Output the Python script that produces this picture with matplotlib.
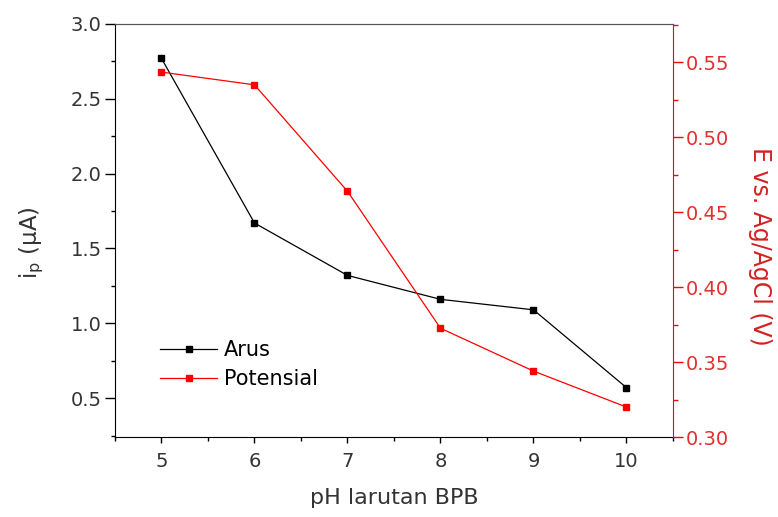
import matplotlib
matplotlib.use("Agg")
import matplotlib.pyplot as plt
from matplotlib.ticker import MultipleLocator, FormatStrFormatter

plt.rcParams['font.family'] = ['DejaVu Sans']

ph = [5, 6, 7, 8, 9, 10]
arus = [2.77, 1.67, 1.32, 1.16, 1.09, 0.57]
potensial = [0.5435, 0.535, 0.464, 0.3726, 0.344, 0.320]

fig = plt.figure(figsize=(7.78, 5.17), dpi=100)
ax = fig.add_axes([0.1478, 0.1547, 0.865 - 0.1478, 0.9536 - 0.1547])
ax2 = ax.twinx()

l1, = ax.plot(ph, arus, color='black', lw=0.9, marker='s', ms=4.6, mec='black', mfc='black', label='Arus')
l2, = ax2.plot(ph, potensial, color='red', lw=0.9, marker='s', ms=5.0, mec='red', mfc='red', label='Potensial')

ax.set_xlim(4.5, 10.5)
ax.set_ylim(0.24, 3.0)
ax2.set_ylim(0.30, 0.5756)

ax.xaxis.set_major_locator(MultipleLocator(1))
ax.xaxis.set_minor_locator(MultipleLocator(0.5))
ax.yaxis.set_major_locator(MultipleLocator(0.5))
ax.yaxis.set_minor_locator(MultipleLocator(0.25))
ax2.yaxis.set_major_locator(MultipleLocator(0.05))
ax2.yaxis.set_minor_locator(MultipleLocator(0.025))
ax2.yaxis.set_major_formatter(FormatStrFormatter('%.2f'))

tc = '#333333'
ax.tick_params(axis='x', which='major', direction='out', length=4, width=1, colors='black', labelcolor=tc, labelsize=14, pad=7)
ax.tick_params(axis='x', which='minor', direction='out', length=3, width=1, colors='black')
ax.tick_params(axis='y', which='major', direction='out', length=7, width=1, colors='black', labelcolor=tc, labelsize=14, pad=2.5)
ax.tick_params(axis='y', which='minor', direction='out', length=3, width=1, colors='black')
ax2.tick_params(axis='y', which='major', direction='out', length=7, width=1, colors='red', labelcolor='#e03030', labelsize=14, pad=2.5)
ax2.tick_params(axis='y', which='minor', direction='out', length=3.5, width=1, colors='red')

for s in ['left', 'bottom']:
    ax.spines[s].set_color('black')
ax.spines['top'].set_color('#555555')
ax2.spines['top'].set_color('#555555')
ax2.spines['right'].set_color('red')
ax2.spines['left'].set_visible(False)
ax2.spines['bottom'].set_visible(False)
ax.spines['right'].set_visible(False)

ax.set_xlabel('pH larutan BPB', fontsize=16, color=tc, labelpad=12)
ax.set_ylabel(r'i$_\mathregular{p}$ ($\mathregular{\mu}$A)', fontsize=16.5, color=tc)
ax.yaxis.set_label_coords(-0.124, 0.471)
ax2.set_ylabel('E vs. Ag/AgCl (V)', fontsize=17, color='#d42020', rotation=270)
ax2.yaxis.set_label_coords(1.177, 0.4625)

leg = ax.legend(handles=[l1, l2], loc='center left', bbox_to_anchor=(0.066, 0.1755), frameon=False,
                borderaxespad=0, fontsize=15, handlelength=2.74, handletextpad=0.34, labelspacing=0.45)

fig.savefig('out.png', dpi=100)
